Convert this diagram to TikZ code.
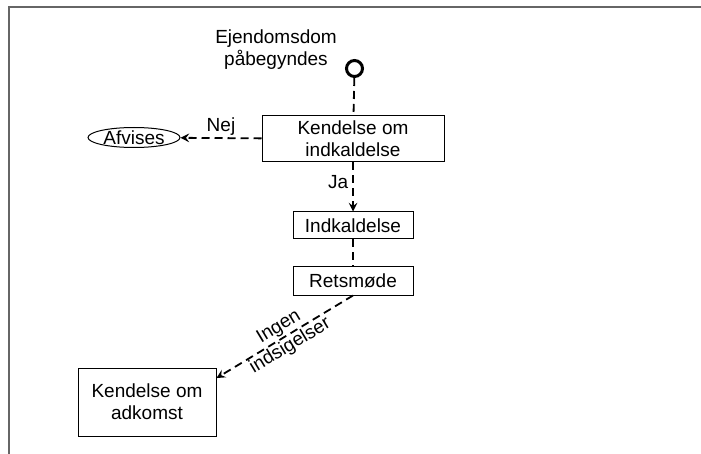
\documentclass[tikz,border=0pt]{standalone}
\usepackage{fontspec}
\setmainfont{Liberation Sans}
\usetikzlibrary{shapes.geometric, arrows}
\definecolor{framegray}{HTML}{666666}
\tikzstyle{box} = [rectangle, draw=black, line width=0.5pt, text centered, align=center, inner sep=0]
\tikzstyle{oval} = [ellipse, draw=black, line width=0.5pt, inner sep=0, minimum width=46pt, minimum height=10pt]
\tikzstyle{startdot} = [shape=circle, draw=black, line width=1.5pt, minimum size=8pt, inner sep=0]
\tikzstyle{dashline} = [line width=0.9pt, dash pattern=on 4pt off 2.5pt]
\tikzstyle{dasharrow} = [dashline, ->, >=stealth]

\begin{document}
\begin{tikzpicture}[x=0.5pt, y=-0.5pt, font=\fontsize{9.5}{11}\selectfont]
\useasboundingbox (0,0) rectangle (701,454);
\draw[framegray, line width=0.9pt] (9,454) -- (9,7) -- (701,7);

\node[startdot] (start) at (354.5,68.5) {};
\node[align=center] (startlbl) at (276,50) {Ejendomsdom\\påbegyndes};
\node[box, minimum width=91pt, minimum height=23pt] (kind) at (353,139) {Kendelse om\\indkaldelse};
\node[oval] (afv) at (134,137.5) {Afvises};
\node[box, minimum width=60pt, minimum height=13.5pt] (ind) at (353,225.5) {Indkaldelse};
\node[box, minimum width=60pt, minimum height=14pt] (ret) at (353,281) {Retsmøde};
\node[box, minimum width=69pt, minimum height=34pt] (kadk) at (147,402) {Kendelse om\\adkomst};

\draw[dashline] (start) -- (kind);
\draw[dasharrow] (kind) -- node[above, inner sep=1pt] {Nej} (afv);
\draw[dasharrow] (kind) -- node[left, pos=0.4, inner sep=2pt] {Ja} (ind);
\draw[dashline] (ind) -- (ret);
\draw[dasharrow] (ret.south) -- node[sloped, align=center] {Ingen\\indsigelser} (kadk.19);
\end{tikzpicture}
\end{document}
